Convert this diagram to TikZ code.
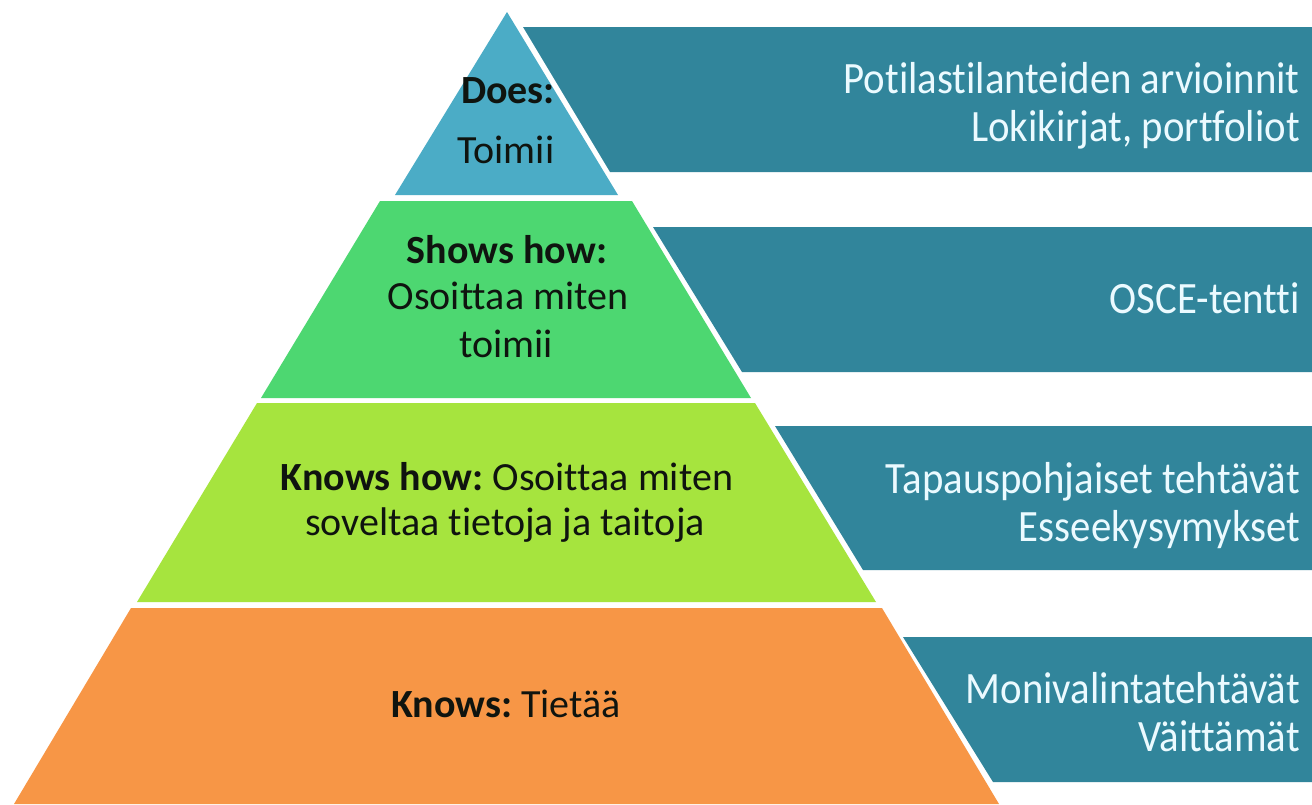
\documentclass[tikz,border=0pt]{standalone}
\usepackage{fontspec}
\setmainfont[Ligatures={NoCommon}]{Carlito}
\definecolor{topblue}{RGB}{75,172,198}
\definecolor{midgreen}{RGB}{77,215,113}
\definecolor{limegreen}{RGB}{166,228,62}
\definecolor{loworange}{RGB}{247,150,70}
\definecolor{barteal}{RGB}{49,133,155}
\definecolor{darktext}{RGB}{15,20,15}
\definecolor{lighttext}{RGB}{235,250,255}
\newcommand{\tallertext}[1]{\scalebox{1.02}[1.12]{#1}}
\tikzset{
  layer/.style={draw=none},
  bar/.style={fill=barteal, draw=none},
  lefttxt/.style={anchor=base, inner sep=0pt, text=darktext, font=\fontsize{40}{48}\selectfont},
  righttxt/.style={anchor=base east, inner sep=0pt, text=lighttext, font=\fontsize{40}{48}\selectfont},
}
\begin{document}
\begin{tikzpicture}[x=1pt,y=-1pt]
\useasboundingbox (0,0) rectangle (1312,804);
\fill[white] (0,0) rectangle (1312,804);
% pyramid layers
\fill[layer, topblue] (507,12) -- (618,195) -- (395,195) -- cycle;
\fill[layer, midgreen] (380,201) -- (632,201) -- (751,398) -- (261,398) -- cycle;
\fill[layer, limegreen] (257,403) -- (755,403) -- (876,602) -- (137,602) -- cycle;
\fill[layer, loworange] (131,608) -- (882,608) -- (999,804) -- (14,804) -- cycle;
% bars
\fill[bar] (523,27) -- (1312,27) -- (1312,172) -- (610,172) -- cycle;
\fill[bar] (653,227) -- (1312,227) -- (1312,372) -- (742,372) -- cycle;
\fill[bar] (775,426) -- (1312,426) -- (1312,570) -- (863,570) -- cycle;
\fill[bar] (903,637) -- (1312,637) -- (1312,782) -- (993,782) -- cycle;
% left texts
\node[lefttxt] (does) at (508,103) {\textbf{Does:}};
\node[lefttxt] (toimii) at (506,163) {Toimii};
\node[lefttxt] (shows) at (507,263) {\textbf{Shows how:}};
\node[lefttxt] (shows2) at (508,309) {Osoittaa miten};
\node[lefttxt] (shows3) at (506,357) {toimii};
\node[lefttxt] (knowshow) at (507,490) {\textbf{Knows how:}\hspace{-3pt} Osoittaa miten};
\node[lefttxt] (knowshow2) at (505,535) {soveltaa tietoja ja taitoja};
\node[lefttxt] (knows) at (506,717) {\textbf{Knows:}\hspace{-3pt} Tietää};
% right texts
\node[righttxt] (r1a) at (1300,93) {\tallertext{Potilastilanteiden arvioinnit}};
\node[righttxt] (r1b) at (1300,141) {\tallertext{Lokikirjat, portfoliot}};
\node[righttxt] (r2) at (1300,313) {\tallertext{OSCE-tentti}};
\node[righttxt] (r3a) at (1300,493) {\tallertext{Tapauspohjaiset tehtävät}};
\node[righttxt] (r3b) at (1300,541) {\tallertext{Esseekysymykset}};
\node[righttxt] (r4a) at (1300,703) {\tallertext{Monivalintatehtävät}};
\node[righttxt] (r4b) at (1300,751) {\tallertext{Väittämät}};
\end{tikzpicture}
\end{document}
